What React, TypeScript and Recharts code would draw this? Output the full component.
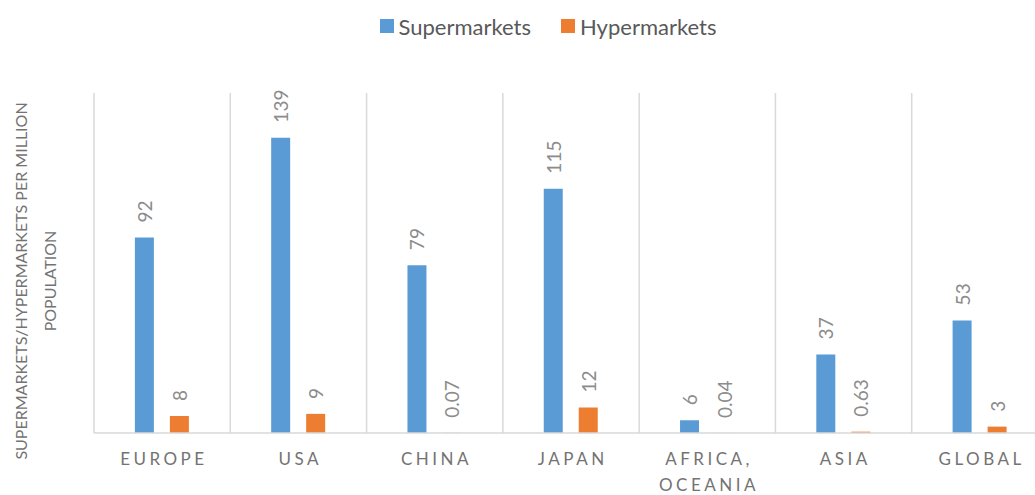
import React from 'react'
import { BarChart, Bar, XAxis, YAxis, CartesianGrid, Legend, LabelList } from 'recharts'

const regions = ['EUROPE', 'USA', 'CHINA', 'JAPAN', 'AFRICA, OCEANIA', 'ASIA', 'GLOBAL']
const supermarkets = [92, 139, 79, 115, 6, 37, 53]
const hypermarkets = [8, 9, 0.07, 12, 0.04, 0.63, 3]
const yDomain = [0, 160]

const data = regions.map((region, i) => ({
    region,
    supermarkets: supermarkets[i],
    hypermarkets: hypermarkets[i],
}))

const BLUE = '#5b9bd5'
const ORANGE = '#ed7d31'
const GRID = '#d9d9d9'
const FONT = 'Lato, "Open Sans", sans-serif'

const series = [
    { key: 'supermarkets', name: 'Supermarkets', color: BLUE },
    { key: 'hypermarkets', name: 'Hypermarkets', color: ORANGE },
]

function RegionTick(props: any) {
    const { x, y, payload } = props
    const lines = String(payload.value).split(' ')
    const spacing = 3.5
    return (
        <text x={x} y={y} textAnchor="middle" fill="#737373" fontSize={17} fontFamily={FONT} letterSpacing={spacing}>
            {lines.map((line, i) => (
                <tspan key={i} x={x + spacing / 2} y={y + 32 + i * 26}>
                    {line}
                </tspan>
            ))}
        </text>
    )
}

function renderValueLabel(props: any) {
    const { x, y, width, value } = props
    const cx = Number(x) + Number(width) / 2
    const ty = Number(y) - 15
    return (
        <text
            x={cx}
            y={ty}
            transform={`rotate(-90 ${cx} ${ty})`}
            textAnchor="start"
            dominantBaseline="central"
            fill="#8c8c8c"
            fontSize={19}
            fontFamily={FONT}
        >
            {value}
        </text>
    )
}

function renderYTitle() {
    const cy = 281
    return (
        <g fill="#737373" fontSize={16} fontFamily={FONT}>
            <text x={20} y={cy} transform={`rotate(-90 20 ${cy})`} textAnchor="middle" dominantBaseline="central">
                SUPERMARKETS/HYPERMARKETS PER MILLION
            </text>
            <text x={49} y={cy} transform={`rotate(-90 49 ${cy})`} textAnchor="middle" dominantBaseline="central">
                POPULATION
            </text>
        </g>
    )
}

function renderLegend() {
    return (
        <div
            style={{
                height: 52,
                display: 'flex',
                justifyContent: 'center',
                alignItems: 'center',
                gap: 30,
                paddingLeft: 48,
                fontFamily: FONT,
                fontSize: 22,
                color: '#595959',
            }}
        >
            {series.map((s) => (
                <div key={s.key} style={{ display: 'flex', alignItems: 'center', gap: 5 }}>
                    <span style={{ width: 14, height: 14, background: s.color, display: 'inline-block' }} />
                    <span>{s.name}</span>
                </div>
            ))}
        </div>
    )
}

export default function App() {
    return (
        <div
            style={{
                position: 'absolute',
                left: 0,
                top: 0,
                width: 1035,
                height: 495,
                overflow: 'hidden',
                background: '#fff',
                fontFamily: FONT,
            }}
        >
            <BarChart
                width={1050}
                height={495}
                data={data}
                margin={{ top: 41, right: 2, left: 0, bottom: 0 }}
                barCategoryGap="30%"
                barGap={16}
            >
                <CartesianGrid
                    horizontal={false}
                    stroke={GRID}
                    strokeWidth={1.5}
                    verticalCoordinatesGenerator={({ offset }: any) =>
                        regions.map((_, i) => offset.left + (i * offset.width) / regions.length)
                    }
                />
                <XAxis
                    dataKey="region"
                    interval={0}
                    tickLine={false}
                    tickSize={0}
                    tickMargin={0}
                    height={62}
                    axisLine={{ stroke: GRID, strokeWidth: 1.5 }}
                    tick={<RegionTick />}
                />
                <YAxis
                    width={94}
                    domain={yDomain}
                    tick={false}
                    tickLine={false}
                    axisLine={false}
                    label={{ content: renderYTitle }}
                />
                <Legend verticalAlign="top" wrapperStyle={{ top: 0 }} content={renderLegend} />
                {series.map((s) => (
                    <Bar key={s.key} dataKey={s.key} name={s.name} fill={s.color} isAnimationActive={false}>
                        <LabelList dataKey={s.key} content={renderValueLabel} />
                    </Bar>
                ))}
            </BarChart>
        </div>
    )
}
